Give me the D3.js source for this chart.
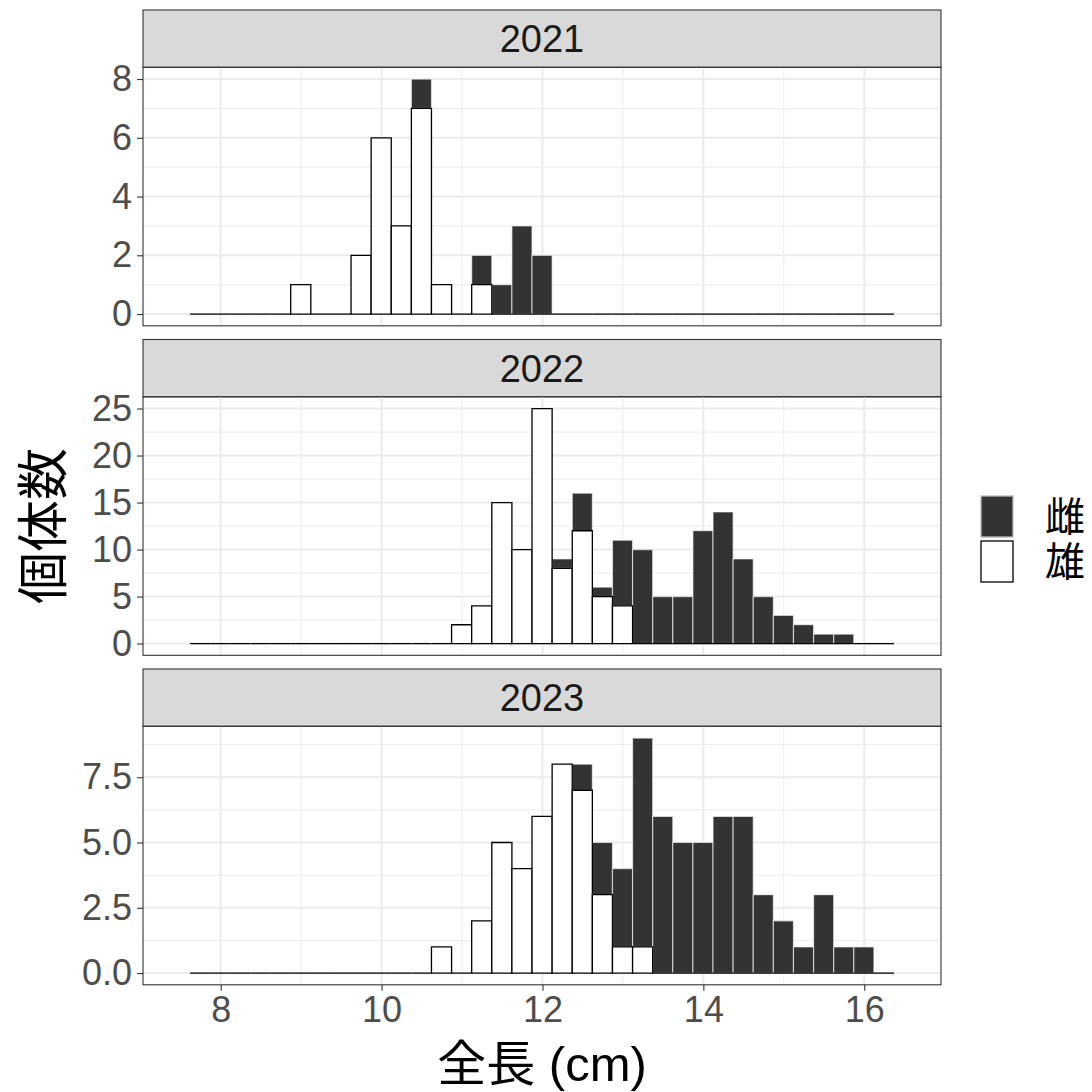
<!DOCTYPE html>
<html>
<head>
<meta charset="utf-8">
<script src="https://cdn.jsdelivr.net/npm/d3@7"></script>
<style>
  body { margin: 0; background: #fff; }
  text { font-family: "Liberation Sans", Arial, "Noto Sans CJK JP", sans-serif; }
</style>
</head>
<body>
<div id="chart-area"></div>
<script>
const years = ['2021', '2022', '2023'];
const sexes = ['雌', '雄'];

// histogram bins: 35 bins of 0.25 cm starting at 7.62
const binStart = 7.62;
const binWidth = 0.25;

const female2021 = [0,0,0,0,0,0,0,0,0,0,0,1,0,0,1,1,3,2,0,0,0,0,0,0,0,0,0,0,0,0,0,0,0,0,0];
const male2021   = [0,0,0,0,0,1,0,0,2,6,3,7,1,0,1,0,0,0,0,0,0,0,0,0,0,0,0,0,0,0,0,0,0,0,0];
const female2022 = [0,0,0,0,0,0,0,0,0,0,0,0,0,0,0,0,0,0,1,4,1,7,10,5,5,12,14,9,5,3,2,1,1,0,0];
const male2022   = [0,0,0,0,0,0,0,0,0,0,0,0,0,2,4,15,10,25,8,12,5,4,0,0,0,0,0,0,0,0,0,0,0,0,0];
const female2023 = [0,0,0,0,0,0,0,0,0,0,0,0,0,0,0,0,0,0,0,1,2,3,8,6,5,5,6,6,3,2,1,3,1,1,0];
const male2023   = [0,0,0,0,0,0,0,0,0,0,0,0,1,0,2,5,4,6,8,7,3,1,1,0,0,0,0,0,0,0,0,0,0,0,0];

const femaleCounts = [female2021, female2022, female2023];
const maleCounts = [male2021, male2022, male2023];

const xTicks = [8, 10, 12, 14, 16];
const xMinor = [9, 11, 13, 15];
const yTicks = [[0, 2, 4, 6, 8], [0, 5, 10, 15, 20, 25], [0, 2.5, 5, 7.5]];
const yMinor = [[1, 3, 5, 7], [2.5, 7.5, 12.5, 17.5, 22.5], [1.25, 3.75, 6.25, 8.75]];
const yFormats = [d3.format('d'), d3.format('d'), d3.format('.1f')];

const panelLeft = 143;
const panelRight = 941;
const stripTops = [10, 339.5, 669];
const stripH = 57.3;
const panelH = 258.5;

const svg = d3.select('#chart-area').append('svg')
  .attr('width', 1092)
  .attr('height', 1092);

const x = d3.scaleLinear()
  .domain([7.034, 16.954])
  .range([panelLeft, panelRight]);

const fillColor = d3.scaleOrdinal().domain(sexes).range(['#333333', '#ffffff']);

years.forEach((year, i) => {
  const top = stripTops[i] + stripH;
  const fem = femaleCounts[i];
  const mal = maleCounts[i];
  const maxTotal = d3.max(fem, (d, k) => d + mal[k]);

  const y = d3.scaleLinear()
    .domain([-maxTotal * 0.05, maxTotal * 1.05])
    .range([top + panelH, top]);

  const panel = svg.append('g');

  // strip
  panel.append('rect')
    .attr('x', panelLeft)
    .attr('y', stripTops[i])
    .attr('width', panelRight - panelLeft)
    .attr('height', stripH)
    .attr('fill', '#d9d9d9')
    .attr('stroke', '#333333')
    .attr('stroke-width', 1.1);

  panel.append('text')
    .attr('x', (panelLeft + panelRight) / 2)
    .attr('y', stripTops[i] + stripH / 2)
    .attr('dy', '0.36em')
    .attr('text-anchor', 'middle')
    .attr('font-size', 38)
    .attr('fill', '#1a1a1a')
    .text(year);

  // grid
  const grid = panel.append('g');
  grid.selectAll('.xminor').data(xMinor).enter().append('line')
    .attr('x1', d => x(d)).attr('x2', d => x(d))
    .attr('y1', top).attr('y2', top + panelH)
    .attr('stroke', '#ebebeb').attr('stroke-width', 1);
  grid.selectAll('.yminor').data(yMinor[i]).enter().append('line')
    .attr('x1', panelLeft).attr('x2', panelRight)
    .attr('y1', d => y(d)).attr('y2', d => y(d))
    .attr('stroke', '#ebebeb').attr('stroke-width', 1);
  grid.selectAll('.xmajor').data(xTicks).enter().append('line')
    .attr('x1', d => x(d)).attr('x2', d => x(d))
    .attr('y1', top).attr('y2', top + panelH)
    .attr('stroke', '#ebebeb').attr('stroke-width', 2);
  grid.selectAll('.ymajor').data(yTicks[i]).enter().append('line')
    .attr('x1', panelLeft).attr('x2', panelRight)
    .attr('y1', d => y(d)).attr('y2', d => y(d))
    .attr('stroke', '#ebebeb').attr('stroke-width', 2);

  // bars: female stacked on male
  const bins = fem.map((f, k) => ({
    x0: binStart + k * binWidth,
    x1: binStart + (k + 1) * binWidth,
    male: mal[k],
    female: f
  }));

  const barPath = (x0, x1, y0, y1) => `M${x(x0)},${y(y0)}H${x(x1)}V${y(y1)}H${x(x0)}Z`;

  panel.append('g').selectAll('path')
    .data(bins.filter(d => d.female > 0))
    .enter().append('path')
    .attr('d', d => barPath(d.x0, d.x1, d.male, d.male + d.female))
    .attr('fill', fillColor('雌'))
    .attr('stroke', '#ffffff')
    .attr('stroke-opacity', 0.6)
    .attr('stroke-width', 1.2);

  panel.append('g').selectAll('path')
    .data(bins)
    .enter().append('path')
    .attr('d', d => barPath(d.x0, d.x1, 0, d.male))
    .attr('fill', fillColor('雄'))
    .attr('stroke', '#000000')
    .attr('stroke-width', 1.3);

  // panel border
  panel.append('rect')
    .attr('x', panelLeft)
    .attr('y', top)
    .attr('width', panelRight - panelLeft)
    .attr('height', panelH)
    .attr('fill', 'none')
    .attr('stroke', '#333333')
    .attr('stroke-width', 1.1);

  // y axis
  const yAxis = panel.append('g')
    .attr('transform', `translate(${panelLeft}, 0)`)
    .call(d3.axisLeft(y).tickValues(yTicks[i]).tickFormat(yFormats[i]).tickSize(6).tickPadding(5));
  yAxis.select('.domain').remove();
  yAxis.selectAll('line').attr('stroke', '#333333').attr('stroke-width', 1.1);
  yAxis.selectAll('text')
    .attr('font-size', 36)
    .attr('fill', '#4d4d4d')
    .attr('font-family', '"Liberation Sans", Arial, sans-serif');

  if (i === years.length - 1) {
    const xAxis = panel.append('g')
      .attr('transform', `translate(0, ${top + panelH})`)
      .call(d3.axisBottom(x).tickValues(xTicks).tickSize(6).tickPadding(6));
    xAxis.select('.domain').remove();
    xAxis.selectAll('line').attr('stroke', '#333333').attr('stroke-width', 1.1);
    xAxis.selectAll('text')
      .attr('font-size', 36)
      .attr('fill', '#4d4d4d')
      .attr('font-family', '"Liberation Sans", Arial, sans-serif');
  }
});

// axis titles
svg.append('text')
  .attr('x', (panelLeft + panelRight) / 2)
  .attr('y', 1081)
  .attr('text-anchor', 'middle')
  .attr('font-size', 49)
  .attr('fill', '#000')
  .text('全長 (cm)');

svg.append('text')
  .attr('transform', `translate(62, ${(stripTops[0] + stripH + stripTops[2] + stripH + panelH) / 2}) rotate(-90)`)
  .attr('text-anchor', 'middle')
  .attr('font-size', 52)
  .attr('fill', '#000')
  .text('個体数');

// legend
const legend = svg.append('g')
  .attr('transform', 'translate(980, 495)');

sexes.forEach((sex, i) => {
  const row = legend.append('g')
    .attr('transform', `translate(0, ${i * 45})`);

  row.append('rect')
    .attr('x', 1)
    .attr('y', 1)
    .attr('width', 32)
    .attr('height', 41)
    .attr('fill', fillColor(sex))
    .attr('stroke', i === 0 ? '#bbbbbb' : '#000000')
    .attr('stroke-width', 1.3);

  row.append('text')
    .attr('x', 65)
    .attr('y', 22)
    .attr('dy', '0.36em')
    .attr('font-size', 40)
    .attr('fill', '#000')
    .text(sex);
});
</script>
</body>
</html>
